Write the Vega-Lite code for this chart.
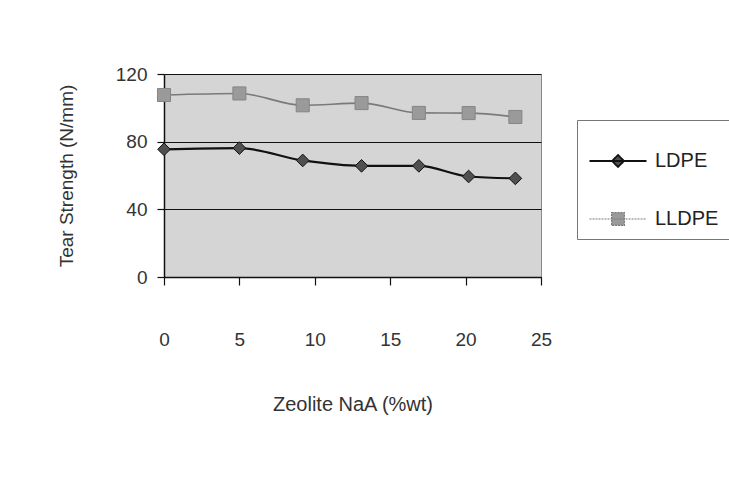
{
  "$schema": "https://vega.github.io/schema/vega-lite/v6.json",
  "width": 377,
  "height": 203,
  "autosize": {"type": "none"},
  "padding": {"left": 164, "top": 74, "right": 188, "bottom": 204},
  "background": "white",
  "config": {
    "font": "Liberation Sans",
    "view": {"fill": "#d5d5d5", "stroke": "#8a8a8a", "strokeWidth": 1},
    "axis": {"labelFont": "Liberation Sans", "titleFont": "Liberation Sans", "labelColor": "#333", "titleColor": "#333", "titleFontWeight": "normal", "domainColor": "#111", "tickColor": "#111", "domainWidth": 1.5, "tickWidth": 1.2}
  },
  "data": {"values": [
    {"zeolite": 0, "strength": 75.5, "series": "LDPE"},
    {"zeolite": 5, "strength": 76.2, "series": "LDPE"},
    {"zeolite": 9.2, "strength": 68.9, "series": "LDPE"},
    {"zeolite": 13.1, "strength": 65.7, "series": "LDPE"},
    {"zeolite": 16.9, "strength": 65.7, "series": "LDPE"},
    {"zeolite": 20.2, "strength": 59.4, "series": "LDPE"},
    {"zeolite": 23.3, "strength": 58.3, "series": "LDPE"},
    {"zeolite": 0, "strength": 107.6, "series": "LLDPE"},
    {"zeolite": 5, "strength": 108.5, "series": "LLDPE"},
    {"zeolite": 9.2, "strength": 101.5, "series": "LLDPE"},
    {"zeolite": 13.1, "strength": 102.8, "series": "LLDPE"},
    {"zeolite": 16.9, "strength": 97.0, "series": "LLDPE"},
    {"zeolite": 20.2, "strength": 96.9, "series": "LLDPE"},
    {"zeolite": 23.3, "strength": 94.6, "series": "LLDPE"}
  ]},
  "encoding": {
    "x": {"field": "zeolite", "type": "quantitative", "scale": {"domain": [0, 25], "nice": false},
      "axis": {"title": "Zeolite NaA (%wt)", "values": [0, 5, 10, 15, 20, 25], "grid": false, "tickSize": 8, "labelPadding": 45, "labelFontSize": 19, "titleFontSize": 20, "titlePadding": 45, "labelFlush": false}},
    "y": {"field": "strength", "type": "quantitative", "scale": {"domain": [0, 120], "nice": false},
      "axis": {"title": "Tear Strength (N/mm)", "values": [0, 40, 80, 120], "grid": true, "gridColor": "#111", "gridWidth": 1.2, "gridOpacity": 1, "tickSize": 7, "labelPadding": 10, "labelFontSize": 19, "titleFontSize": 19, "titlePadding": 39}}
  },
  "layer": [
    {
      "transform": [{"filter": "datum.series === 'LLDPE'"}],
      "mark": {"type": "line", "interpolate": "monotone", "color": "#7a7a7a", "strokeWidth": 1.6}
    },
    {
      "transform": [{"filter": "datum.series === 'LDPE'"}],
      "mark": {"type": "line", "interpolate": "monotone", "strokeWidth": 2.2},
      "encoding": {
        "color": {"field": "series", "type": "nominal", "scale": {"domain": ["LDPE", "LLDPE"], "range": ["#111111", "#7a7a7a"]},
          "legend": {
            "title": " ", "titleFontSize": 10, "titlePadding": 11,
            "orient": "none", "legendX": 413, "legendY": 46,
            "strokeColor": "#777", "fillColor": "white", "padding": 10,
            "symbolSize": 203, "symbolOffset": 21, "rowPadding": 38,
            "labelFontSize": 20, "labelColor": "#222", "labelOffset": 27, "labelFont": "Liberation Sans",
            "labelExpr": "datum.label + '    '",
            "symbolType": "circle",
            "encode": {"symbols": {"update": {
              "shape": {"signal": "datum.value === 'LDPE' ? 'M-4,0L4,0M0,-0.84L0.84,0L0,0.84L-0.84,0Z' : 'M-4,0L4,0M-0.9,-0.9L0.9,-0.9L0.9,0.9L-0.9,0.9Z'"},
              "size": {"value": 203},
              "fill": {"signal": "datum.value === 'LDPE' ? '#505050' : '#9a9a9a'"},
              "stroke": {"signal": "datum.value === 'LDPE' ? '#111111' : '#8a8a8a'"},
              "strokeWidth": {"signal": "datum.value === 'LDPE' ? 1.8 : 1.2"},
              "strokeDash": {"signal": "datum.value === 'LDPE' ? [1, 0] : [2, 1]"},
              "opacity": {"value": 1},
              "fillOpacity": {"value": 1},
              "strokeOpacity": {"value": 1}
            }}}
          }}
      }
    },
    {
      "transform": [{"filter": "datum.series === 'LDPE'"}],
      "mark": {"type": "point", "shape": "diamond", "filled": true, "size": 160, "fill": "#505050", "stroke": "#111111", "strokeWidth": 1, "opacity": 1}
    },
    {
      "transform": [{"filter": "datum.series === 'LLDPE'"}],
      "mark": {"type": "point", "shape": "square", "filled": true, "size": 170, "fill": "#9a9a9a", "stroke": "#858585", "strokeWidth": 1, "opacity": 1}
    }
  ]
}
